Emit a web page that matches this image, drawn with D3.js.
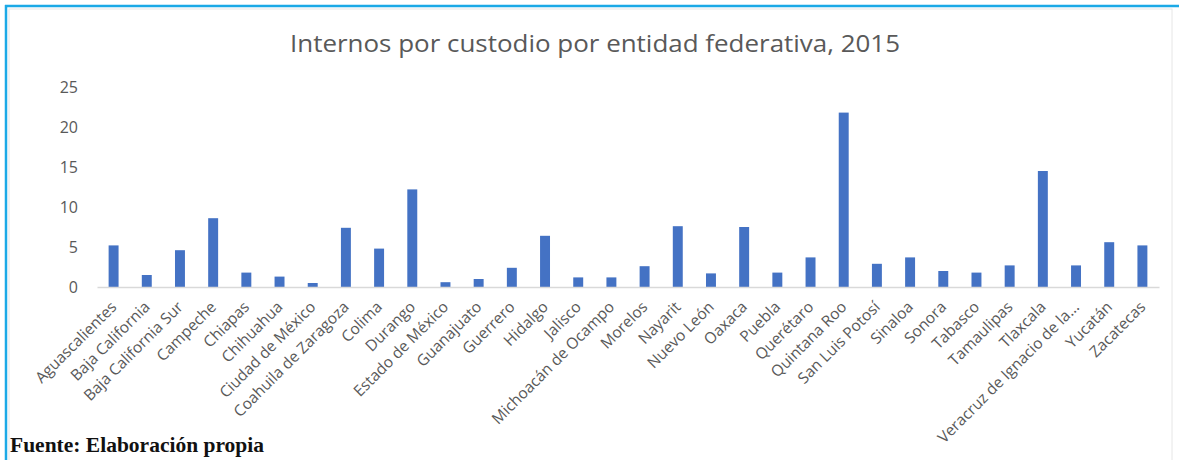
<!DOCTYPE html>
<html>
<head>
<meta charset="utf-8">
<script src="https://cdn.jsdelivr.net/npm/d3@7"></script>
<style>
  html, body { margin: 0; padding: 0; background: #fff; }
  svg { display: block; }
</style>
</head>
<body>
<svg id="chart" width="1179" height="460"></svg>
<script>
// data
const entidades = [
    "Aguascalientes", "Baja California", "Baja California Sur", "Campeche",
    "Chiapas", "Chihuahua", "Ciudad de México", "Coahuila de Zaragoza",
    "Colima", "Durango", "Estado de México", "Guanajuato", "Guerrero",
    "Hidalgo", "Jalisco", "Michoacán de Ocampo", "Morelos", "Nayarit",
    "Nuevo León", "Oaxaca", "Puebla", "Querétaro", "Quintana Roo",
    "San Luis Potosí", "Sinaloa", "Sonora", "Tabasco", "Tamaulipas",
    "Tlaxcala", "Veracruz de Ignacio de la...", "Yucatán", "Zacatecas"
];
const internosPorCustodio = [
    5.2, 1.5, 4.6, 8.6, 1.8, 1.3, 0.5, 7.4, 4.8, 12.2, 0.6, 1.0, 2.4,
    6.4, 1.2, 1.2, 2.6, 7.6, 1.7, 7.5, 1.8, 3.7, 21.8, 2.9, 3.7, 2.0,
    1.8, 2.7, 14.5, 2.7, 5.6, 5.2
];
const yTicks = [0, 5, 10, 15, 20, 25];
const titulo = "Internos por custodio por entidad federativa, 2015";
const fuente = "Fuente: Elaboración propia";

const svg = d3.select("#chart");
const textColor = "#595959";

// frame: blue picture border + faint chart border
svg.append("rect")
    .attr("x", 9).attr("y", 9).attr("width", 1163).attr("height", 460)
    .attr("fill", "none").attr("stroke", "#e6e6e6").attr("stroke-width", 1);
svg.append("line")
    .attr("x1", 5).attr("x2", 1179).attr("y1", 6).attr("y2", 6)
    .attr("stroke", "#1ba9e6").attr("stroke-width", 2.5);
svg.append("line")
    .attr("x1", 6).attr("x2", 6).attr("y1", 5).attr("y2", 460)
    .attr("stroke", "#1ba9e6").attr("stroke-width", 2.5);

const x = d3.scaleBand()
    .domain(entidades)
    .range([97, 1159])
    .paddingInner(0.7)
    .paddingOuter(0.35);

const y = d3.scaleLinear()
    .domain([0, 25])
    .range([287, 87]);

// title (the picture is a bit stretched sideways, so fit its width)
svg.append("text")
    .attr("x", 595).attr("y", 52)
    .attr("text-anchor", "middle")
    .attr("font-family", "'Open Sans', sans-serif")
    .attr("font-size", 23)
    .attr("fill", textColor)
    .attr("textLength", 610)
    .attr("lengthAdjust", "spacingAndGlyphs")
    .text(titulo);

// y axis, labels only
const yAxis = svg.append("g")
    .attr("transform", "translate(80,0)")
    .call(d3.axisLeft(y).tickValues(yTicks).tickSize(0).tickPadding(2));
yAxis.select(".domain").remove();
yAxis.selectAll("text")
    .attr("font-family", "'Open Sans', sans-serif")
    .attr("font-size", 16)
    .attr("fill", textColor);

// bars
svg.append("g")
    .selectAll("rect")
    .data(internosPorCustodio)
    .join("rect")
    .attr("x", (d, i) => x(entidades[i]))
    .attr("y", d => y(d))
    .attr("width", x.bandwidth())
    .attr("height", d => y(0) - y(d))
    .attr("fill", "#4472c4");

// x axis
const xAxis = svg.append("g")
    .attr("transform", `translate(0,${y(0)})`)
    .call(d3.axisBottom(x).tickSize(0).tickPadding(0));
xAxis.select(".domain").attr("stroke", "#d9d9d9").attr("stroke-width", 1.3);
xAxis.selectAll("text")
    .attr("font-family", "'Open Sans', sans-serif")
    .attr("font-size", 15.5)
    .attr("fill", textColor)
    .attr("text-anchor", "end")
    .attr("dx", 0)
    .attr("dy", 0)
    .attr("transform", "translate(4,21) rotate(-45)");

// source note
svg.append("text")
    .attr("x", 10).attr("y", 452)
    .attr("font-family", "'Liberation Serif', 'Times New Roman', serif")
    .attr("font-weight", "bold")
    .attr("font-size", 21.5)
    .attr("fill", "#111")
    .text(fuente);
</script>
</body>
</html>
